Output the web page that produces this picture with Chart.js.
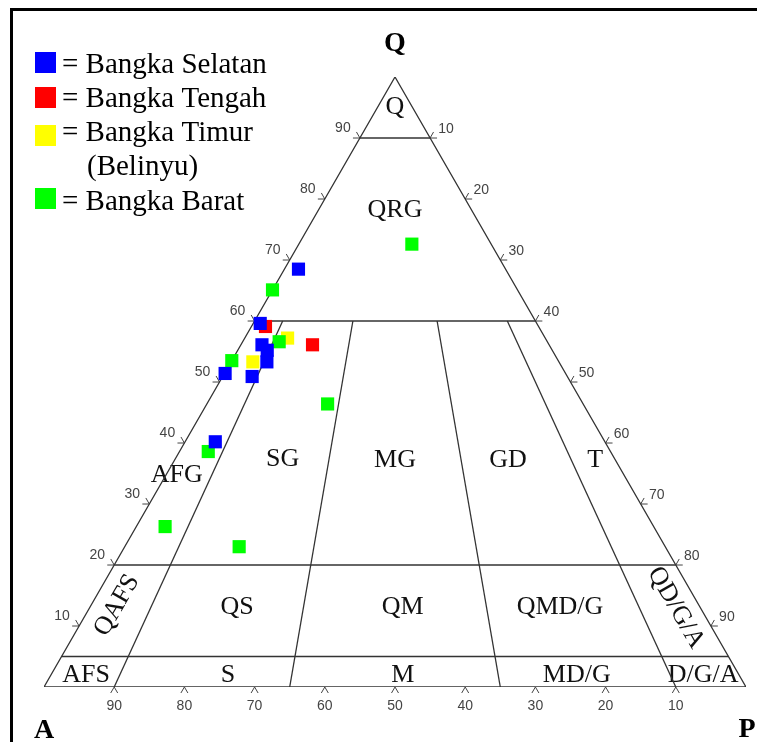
<!DOCTYPE html>
<html>
<head>
<meta charset="utf-8">
<script src="https://cdn.jsdelivr.net/npm/chart.js@4.4.1/dist/chart.umd.min.js"></script>
<style>
  html, body { margin: 0; padding: 0; background: #fff; }
  canvas { display: block; }
</style>
</head>
<body>
<canvas id="qapChart" width="757" height="742"></canvas>
<script>
// sample data, Q and P in percent (A = 100 - Q - P)
var seriesNames = ['Bangka Selatan', 'Bangka Tengah', 'Bangka Timur', 'Bangka Barat'];
var selatanQ = [68.5, 59.6, 56.1, 55.2, 53.3, 51.4, 50.9, 40.2];
var selatanP = [2.0, 1.0, 3.0, 4.2, 5.1, 0.1, 4.2, 4.3];
var tengahQ = [59.1, 56.1];
var tengahP = [2.0, 10.2];
var timurQ = [57.2, 53.3];
var timurP = [6.1, 3.1];
var baratQ = [72.6, 65.1, 56.6, 53.5, 46.4, 38.6, 26.3, 23.0];
var baratP = [16.1, 0.0, 5.2, 0.0, 17.2, 4.1, 4.1, 16.3];

// tick labels on the three sides
var tickValues = [10, 20, 30, 40, 50, 60, 70, 80, 90];

// classification field boundaries (Streckeisen QAP)
var qLevels = [90, 60, 20, 5];
var pRatios = [0.1, 0.35, 0.65, 0.9];

// ternary -> cartesian (x = P + Q/2, y = Q) on an equilateral triangle
function toXY(q, p) {
    return { x: p + q / 2, y: q };
}

function makePoints(qs, ps) {
    var out = [];
    for (var i = 0; i < qs.length; i++) {
        out.push(toXY(qs[i], ps[i]));
    }
    return out;
}

function lineSet(pts) {
    return {
        type: 'line',
        data: pts,
        borderColor: '#333',
        borderWidth: 1.3,
        pointRadius: 0,
        fill: false,
        tension: 0
    };
}

var datasets = [
    { label: seriesNames[0], data: makePoints(selatanQ, selatanP), backgroundColor: '#0000ff' },
    { label: seriesNames[3], data: makePoints(baratQ, baratP), backgroundColor: '#00ff00' },
    { label: seriesNames[1], data: makePoints(tengahQ, tengahP), backgroundColor: '#ff0000' },
    { label: seriesNames[2], data: makePoints(timurQ, timurP), backgroundColor: '#ffff00' }
];
datasets.forEach(function (d) {
    d.pointStyle = 'rect';
    d.pointRadius = 9.3;
    d.pointHoverRadius = 9.3;
    d.borderWidth = 0;
    d.borderColor = d.backgroundColor;
});

// triangle outline
datasets.push(lineSet([toXY(0, 0), toXY(100, 0), toXY(0, 100), toXY(0, 0)]));
// horizontal Q lines
qLevels.forEach(function (q) {
    datasets.push(lineSet([toXY(q, 0), toXY(q, 100 - q)]));
});
// lines of constant P/(A+P) from the base up to Q = 60
pRatios.forEach(function (r) {
    datasets.push(lineSet([toXY(0, 100 * r), toXY(60, 40 * r)]));
});

var serif = '"Liberation Serif", "Times New Roman", serif';
var sans = '"Liberation Sans", Arial, sans-serif';

// field names, positioned in (x, Q) chart units
var fieldLabels = [
    { t: 'Q', x: 50, y: 95.1 },
    { t: 'QRG', x: 50, y: 78.2 },
    { t: 'AFG', x: 18.9, y: 34.8 },
    { t: 'SG', x: 34.0, y: 37.4 },
    { t: 'MG', x: 50, y: 37.2 },
    { t: 'GD', x: 66.1, y: 37.2 },
    { t: 'T', x: 78.5, y: 37.2 },
    { t: 'QAFS', x: 10.4, y: 13.4, rot: -60 },
    { t: 'QS', x: 27.5, y: 13.1 },
    { t: 'QM', x: 51.1, y: 13.1 },
    { t: 'QMD/G', x: 73.5, y: 13.1 },
    { t: 'QD/G/A', x: 90.0, y: 13.0, rot: 60 },
    { t: 'AFS', x: 6.0, y: 2.0 },
    { t: 'S', x: 26.2, y: 2.0 },
    { t: 'M', x: 51.1, y: 2.0 },
    { t: 'MD/G', x: 75.9, y: 2.0 },
    { t: 'D/G/A', x: 93.9, y: 2.0 }
];

function chevron(ctx, px, py, nx, ny, dx, dy) {
    ctx.beginPath();
    ctx.moveTo(px + 6 * nx + 3.5 * dx, py + 6 * ny + 3.5 * dy);
    ctx.lineTo(px, py);
    ctx.lineTo(px + 6 * nx - 3.5 * dx, py + 6 * ny - 3.5 * dy);
    ctx.stroke();
}

var ternaryPlugin = {
    id: 'ternary',
    beforeDraw: function (chart) {
        var ctx = chart.ctx;
        ctx.save();
        ctx.fillStyle = '#fff';
        ctx.fillRect(0, 0, chart.width, chart.height);
        ctx.fillStyle = '#000';
        ctx.fillRect(10, 8, chart.width - 10, 3);
        ctx.fillRect(10, 8, 3, chart.height - 8);
        ctx.restore();
    },
    beforeDatasetsDraw: function (chart) {
        var ctx = chart.ctx;
        var xs = chart.scales.x, ys = chart.scales.y;
        function px(p) { return { x: xs.getPixelForValue(p.x), y: ys.getPixelForValue(p.y) }; }
        ctx.save();

        // field names
        ctx.fillStyle = '#111';
        ctx.font = '26px ' + serif;
        ctx.textAlign = 'center';
        ctx.textBaseline = 'middle';
        fieldLabels.forEach(function (l) {
            var x = xs.getPixelForValue(l.x), y = ys.getPixelForValue(l.y);
            ctx.save();
            ctx.translate(x, y);
            if (l.rot) ctx.rotate(l.rot * Math.PI / 180);
            ctx.fillText(l.t, 0, 0);
            ctx.restore();
        });

        // ticks and tick labels
        ctx.strokeStyle = '#444';
        ctx.lineWidth = 1;
        ctx.fillStyle = '#444';
        ctx.font = '14px ' + sans;
        var s3 = Math.sqrt(3) / 2;
        tickValues.forEach(function (v) {
            // left side: Q value
            var a = px(toXY(v, 0));
            chevron(ctx, a.x, a.y, -s3, -0.5, 0.5, -s3);
            ctx.fillText(String(v), a.x - 17, a.y - 10);
            // right side: P value
            var b = px(toXY(100 - v, v));
            chevron(ctx, b.x, b.y, s3, -0.5, 0.5, s3);
            ctx.fillText(String(v), b.x + 16, b.y - 9);
            // base: A value
            var c = px(toXY(0, 100 - v));
            chevron(ctx, c.x, c.y, 0, 1, 1, 0);
            ctx.fillText(String(v), c.x, c.y + 19);
        });

        // apex names
        ctx.fillStyle = '#000';
        ctx.font = 'bold 28px ' + serif;
        ctx.textBaseline = 'alphabetic';
        var q = px({ x: 50, y: 100 });
        ctx.fillText('Q', q.x, q.y - 26);
        var a0 = px({ x: 0, y: 0 });
        ctx.fillText('A', a0.x, a0.y + 51);
        var p0 = px({ x: 100, y: 0 });
        ctx.fillText('P', p0.x + 1, p0.y + 50);
        ctx.restore();
    },
    afterDraw: function (chart) {
        var ctx = chart.ctx;
        var colors = ['#0000ff', '#ff0000', '#ffff00', '#00ff00'];
        var boxY = [52, 87, 125, 188];
        var textY = [73, 107, 141, 210];
        ctx.save();
        ctx.font = '29px ' + serif;
        ctx.fillStyle = '#000';
        ctx.textAlign = 'left';
        ctx.textBaseline = 'alphabetic';
        for (var i = 0; i < 4; i++) {
            ctx.fillStyle = colors[i];
            ctx.fillRect(35, boxY[i], 21, 21);
            ctx.fillStyle = '#000';
            ctx.fillText('= ' + seriesNames[i], 62, textY[i]);
        }
        ctx.fillText('(Belinyu)', 87, 175);
        ctx.restore();
    }
};

var ctx = document.getElementById('qapChart').getContext('2d');
var qapChart = new Chart(ctx, {
    type: 'scatter',
    data: { datasets: datasets },
    options: {
        responsive: false,
        animation: false,
        events: [],
        layout: { padding: { left: 44, right: 11, top: 77, bottom: 55 } },
        scales: {
            x: { type: 'linear', min: 0, max: 100, display: false },
            y: { type: 'linear', min: 0, max: 100, display: false }
        },
        plugins: {
            legend: { display: false },
            tooltip: { enabled: false }
        }
    },
    plugins: [ternaryPlugin]
});
</script>
</body>
</html>
